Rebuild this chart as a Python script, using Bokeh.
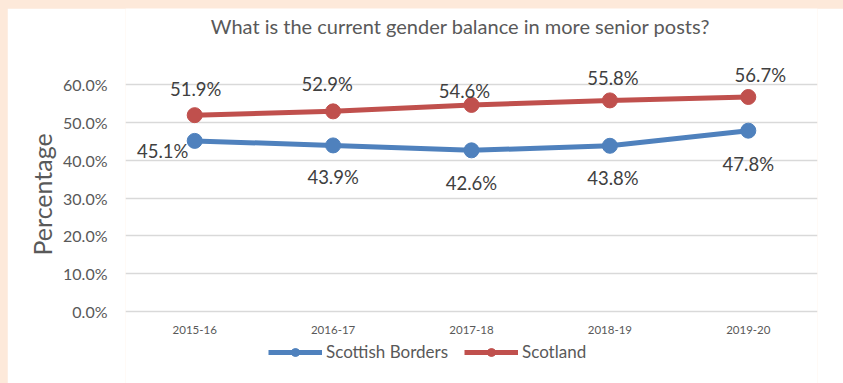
from bokeh.plotting import figure
from bokeh.models import (ColumnDataSource, FactorRange, Range1d, LabelSet, Label, Legend,
                          LegendItem, PrintfTickFormatter, FixedTicker, Title)
from bokeh.core.properties import value
from bokeh.layouts import column
from bokeh.embed import file_html
from bokeh.resources import INLINE

# ---- data ----
years = ["2015-16", "2016-17", "2017-18", "2018-19", "2019-20"]
borders = [45.1, 43.9, 42.6, 43.8, 47.8]
scotland = [51.9, 52.9, 54.6, 55.8, 56.7]
y_ticks = [0, 10, 20, 30, 40, 50, 60]
title_text = "What is the current gender balance in more senior posts?"
y_label = "Percentage"

# label placement (screen px, style only)
scot_dx = [1, -6, -7, 3, 12]
scot_dy = [26, 27, 14, 22, 22]
bord_dx = [-32, 0, 0, 3, 0]
bord_dy = [-10, -32, -33, -32, -33]

FONT = "Lato"
BLUE = "#4F81BD"
RED = "#C0504D"
TXT = "#595959"
LBL = "#404040"
PEACH = "#FDE9DA"

src_b = ColumnDataSource(dict(x=years, y=borders, t=[f"{v:.1f}%" for v in borders],
                              dx=bord_dx, dy=bord_dy))
src_s = ColumnDataSource(dict(x=years, y=scotland, t=[f"{v:.1f}%" for v in scotland],
                              dx=scot_dx, dy=scot_dy))
src_x = ColumnDataSource(dict(x=years, y=[y_ticks[0]] * len(years), t=years))

# frame covers the whole canvas height so labels / legend / title are not clipped
p = figure(width=836, height=375, x_range=FactorRange(*years), y_range=Range1d(-19.03, 80.09),
           output_backend="svg", toolbar_location=None, x_axis_location=None,
           min_border_left=118, min_border_right=26, min_border_top=0, min_border_bottom=0)
p.title.visible = False
p.outline_line_color = None
p.background_fill_color = "white"
p.border_fill_color = "white"

p.xgrid.grid_line_color = None
p.ygrid.grid_line_color = "#D9D9D9"
p.ygrid.grid_line_width = 1.3
p.ygrid.ticker = FixedTicker(ticks=y_ticks)
p.yaxis.ticker = FixedTicker(ticks=y_ticks)
p.yaxis.formatter = PrintfTickFormatter(format="%.1f%%")
ax = p.yaxis[0]
ax.axis_line_color = None
ax.major_tick_line_color = None
ax.minor_tick_line_color = None
ax.major_label_text_color = TXT
ax.major_label_text_font = FONT
ax.major_label_text_font_size = "16px"
ax.major_label_standoff = 12

p.add_layout(Title(text=y_label, align="left", offset=128, text_font=FONT,
                   text_font_size="25px", text_font_style="normal", text_color=TXT,
                   standoff=7), "left")

# chart title, centred over the plot
p.add_layout(Label(x=2.5, y=y_ticks[-1], x_offset=-11, y_offset=59, text=title_text,
                   text_align="center", text_baseline="middle", text_font=FONT,
                   text_font_size="20px", text_color=TXT))

lb = p.line("x", "y", source=src_b, color=BLUE, line_width=5)
cb = p.scatter("x", "y", source=src_b, size=15, color=BLUE)
ls = p.line("x", "y", source=src_s, color=RED, line_width=5)
cs = p.scatter("x", "y", source=src_s, size=15, color=RED)

for src in (src_b, src_s):
    p.add_layout(LabelSet(x="x", y="y", text="t", source=src, x_offset="dx", y_offset="dy",
                          text_align="center", text_baseline="middle",
                          text_font=value(FONT), text_font_size=value("18.5px"),
                          text_color=LBL))

# category labels under the 0 % line
p.add_layout(LabelSet(x="x", y="y", text="t", source=src_x, y_offset=-18,
                      text_align="center", text_baseline="middle",
                      text_font=value(FONT), text_font_size=value("11.5px"),
                      text_color=TXT))

legend = Legend(items=[LegendItem(label="Scottish Borders", renderers=[lb, cb]),
                       LegendItem(label="Scotland", renderers=[ls, cs])],
                orientation="horizontal", location=(143, 21),
                padding=0, margin=0, spacing=16, glyph_width=54, glyph_height=20,
                label_standoff=4, border_line_color=None, background_fill_alpha=0,
                label_text_font=FONT, label_text_font_size="17px", label_text_color=TXT)
p.add_layout(legend, "center")

root = column(p, styles={"background-color": PEACH, "padding-left": "7px", "padding-top": "8px"})
open("out.html", "w").write(file_html(root, INLINE))
